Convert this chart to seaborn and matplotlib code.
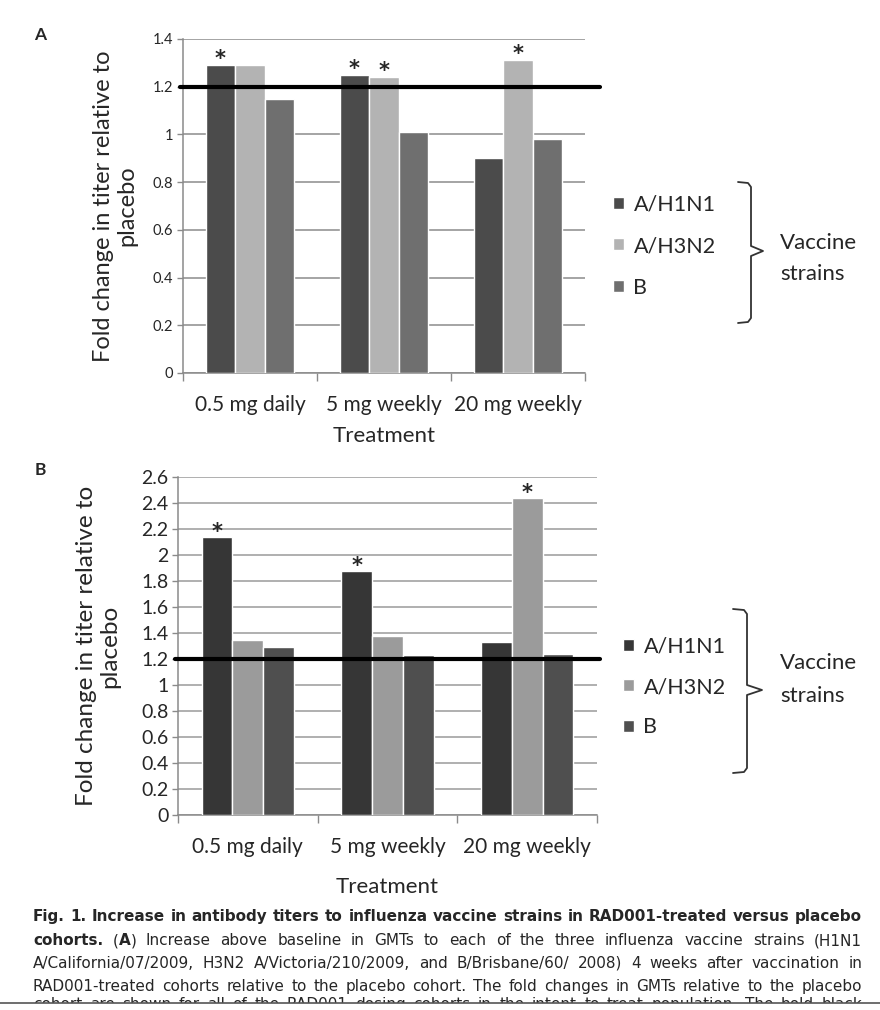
import numpy as np
import pandas as pd
import matplotlib
matplotlib.use("Agg")
import matplotlib.pyplot as plt
import seaborn as sns
from matplotlib.lines import Line2D
from matplotlib.patches import Rectangle

# ---------------- data ----------------
treatments = ["0.5 mg daily", "5 mg weekly", "20 mg weekly"]
strains = ["A/H1N1", "A/H3N2", "B"]

a_h1n1 = [1.29, 1.25, 0.90]
a_h3n2 = [1.29, 1.24, 1.31]
a_b = [1.15, 1.01, 0.98]

b_h1n1 = [2.14, 1.88, 1.33]
b_h3n2 = [1.35, 1.38, 2.44]
b_b = [1.29, 1.23, 1.24]

a_yticks = [0, 0.2, 0.4, 0.6, 0.8, 1.0, 1.2, 1.4]
b_yticks = [0, 0.2, 0.4, 0.6, 0.8, 1.0, 1.2, 1.4, 1.6, 1.8, 2.0, 2.2, 2.4, 2.6]

# significance stars: (treatment index, strain index)
a_stars = [(0, 0), (1, 0), (1, 1), (2, 1)]
b_stars = [(0, 0), (1, 0), (2, 1)]

threshold = 1.2

caption_lines = [
    [[("Fig.", "bold")], [("1.", "bold")], [("Increase", "bold")], [("in", "bold")], [("antibody", "bold")],
     [("titers", "bold")], [("to", "bold")], [("influenza", "bold")], [("vaccine", "bold")], [("strains", "bold")],
     [("in", "bold")], [("RAD001-treated", "bold")], [("versus", "bold")], [("placebo", "bold")]],
    [[("cohorts.", "bold")], [("(", "normal"), ("A", "bold"), (")", "normal")]] +
    [[(w, "normal")] for w in "Increase above baseline in GMTs to each of the three influenza vaccine strains (H1N1".split()],
    [[(w, "normal")] for w in "A/California/07/2009, H3N2 A/Victoria/210/2009, and B/Brisbane/60/ 2008) 4 weeks after vaccination in".split()],
    [[(w, "normal")] for w in "RAD001-treated cohorts relative to the placebo cohort. The fold changes in GMTs relative to the placebo".split()],
    [[(w, "normal")] for w in "cohort are shown for all of the RAD001 dosing cohorts in the intent to treat population. The bold black".split()],
]

# ---------------- styling ----------------
W, H = 880, 1010
sns.set_theme(style="white")
plt.rcParams["font.family"] = ["Lato", "DejaVu Sans"]
NARROW = ["Liberation Sans Narrow", "Lato", "DejaVu Sans"]
CAPTION_FONT = ["DejaVu Sans"]

fig = plt.figure(figsize=(W / 100, H / 100), dpi=100)
fig.patch.set_facecolor("white")


def fx(px):
    return px / W


def fy(py):
    return 1 - py / H


def panel(rect, series, colors, yticks, stars, tick_size, ylab_x, ylab_size,
          tick_pad, xlab_pad, line_span, star_off, grid_color, legend_pos, legend_spacing):
    ax = fig.add_axes(rect)
    df = pd.DataFrame({
        "Treatment": treatments * len(strains),
        "fold": [v for s in series for v in s],
        "strain": np.repeat(strains, len(treatments)),
    })
    sns.barplot(data=df, x="Treatment", y="fold", hue="strain", order=treatments,
                hue_order=strains, palette=colors, width=0.66, gap=0, saturation=1,
                errorbar=None, ax=ax, zorder=3)
    ax.set_xlim(-0.5, len(treatments) - 0.5)
    ax.set_ylim(0, yticks[-1])
    ax.set_yticks(yticks)
    ax.set_yticklabels([f"{v:g}" for v in yticks], fontsize=tick_size, family=NARROW)
    ax.yaxis.grid(True, color=grid_color, lw=1.1)
    ax.xaxis.grid(False)
    ax.set_axisbelow(True)
    for side in ("top", "right"):
        ax.spines[side].set_visible(False)
    for side in ("left", "bottom"):
        ax.spines[side].set_color("#8a8a8a")
        ax.spines[side].set_linewidth(1.1)
    ax.tick_params(axis="y", length=4, width=1, color="#8a8a8a", pad=3, left=True)
    ax.set_xticks(np.arange(-0.5, len(treatments), 1.0), minor=True)
    ax.tick_params(axis="x", which="major", length=0, pad=tick_pad, labelsize=15)
    ax.tick_params(axis="x", which="minor", length=6, width=1, color="#8a8a8a",
                   direction="out", bottom=True)
    ax.set_xlabel("Treatment", fontsize=16, labelpad=xlab_pad)
    ax.set_ylabel("Fold change in titer relative to\nplacebo", fontsize=ylab_size,
                  linespacing=1.12)
    ax.yaxis.set_label_coords(ylab_x, 0.5)
    ax.yaxis.label.set_verticalalignment("center")
    ax.axhline(threshold, xmin=line_span[0], xmax=line_span[1], color="black", lw=3,
               clip_on=False, zorder=6)
    for ti, si in stars:
        bar = ax.containers[si][ti]
        ax.annotate("*", (bar.get_x() + bar.get_width() / 2, bar.get_height()),
                    xytext=(0, star_off), textcoords="offset points", ha="center",
                    va="baseline", fontsize=15, fontweight="bold", family="DejaVu Sans")
    handles, labels = ax.get_legend_handles_labels()
    ax.legend(handles, labels, loc="center left", bbox_to_anchor=legend_pos,
              bbox_transform=fig.transFigure, frameon=False, fontsize=15.5,
              handlelength=0.5, handleheight=0.5, handletextpad=0.45,
              labelspacing=legend_spacing, borderpad=0, borderaxespad=0)
    return ax


# Panel A
axA = panel([fx(183), fy(373), fx(585) - fx(183), fy(39) - fy(373)],
            [a_h1n1, a_h3n2, a_b], ["#4b4b4b", "#b3b3b3", "#6f6f6f"], a_yticks, a_stars,
            tick_size=10.5, ylab_x=(115 - 183) / 402, ylab_size=17,
            tick_pad=16, xlab_pad=8, line_span=(-0.008, 1.037), star_off=0,
            grid_color="#8c8c8c", legend_pos=(fx(613), fy(246)), legend_spacing=1.0)

# Panel B
axB = panel([fx(178), fy(815), fx(597) - fx(178), fy(477) - fy(815)],
            [b_h1n1, b_h3n2, b_b], ["#363636", "#9b9b9b", "#4f4f4f"], b_yticks, b_stars,
            tick_size=14, ylab_x=(98 - 178) / 419, ylab_size=17.5,
            tick_pad=16, xlab_pad=14, line_span=(-0.008, 1.007), star_off=-1,
            grid_color="#9a9a9a", legend_pos=(fx(623), fy(687)), legend_spacing=0.95)

# panel letters
fig.text(fx(40), fy(35), "A", fontsize=12.5, fontweight="bold", ha="center", va="center")
fig.text(fx(40), fy(470), "B", fontsize=12.5, fontweight="bold", ha="center", va="center")


# curly brackets + "Vaccine strains"
def bracket(x_left, x_v, x_tip, y_top, y_mid, y_bot):
    xs = [x_left, x_v - 3, x_v, x_v, x_tip, x_v, x_v, x_v - 3, x_left]
    ys = [y_top, y_top + 1, y_top + 5, y_mid - 5, y_mid, y_mid + 5, y_bot - 5, y_bot - 1, y_bot]
    fig.add_artist(Line2D([fx(x) for x in xs], [fy(y) for y in ys], color="#333333", lw=1.3,
                          transform=fig.transFigure))


bracket(738, 751, 763, 182, 251, 323)
bracket(733, 747, 762, 609, 690, 773)
for ytop, ybot in ((243, 274), (663, 696)):
    fig.text(fx(780), fy(ytop), "Vaccine", fontsize=16, ha="left", va="center")
    fig.text(fx(780), fy(ybot), "strains", fontsize=16, ha="left", va="center")

# ---------------- caption (justified) ----------------
renderer = fig.canvas.get_renderer()
cap_baseline = [921, 945, 968, 991, 1009]
X0, X1 = 33, 862
for words, ypx in zip(caption_lines, cap_baseline):
    size = 11.0
    while True:
        objs, widths = [], []
        for word in words:
            segs, total = [], 0
            for s, wt in word:
                t = fig.text(0, 0, s, fontsize=size, fontweight=wt, family=CAPTION_FONT,
                             ha="left", va="baseline")
                w = t.get_window_extent(renderer).width
                segs.append((t, w))
                total += w
            objs.append(segs)
            widths.append(total)
        gap = (X1 - X0 - sum(widths)) / (len(words) - 1)
        if gap >= 3.5 or size < 8:
            break
        for segs in objs:
            for t, _ in segs:
                t.remove()
        size -= 0.2
    x = X0
    for segs, w in zip(objs, widths):
        xx = x
        for t, sw in segs:
            t.set_position((fx(xx), fy(ypx)))
            xx += sw
        x += w + gap

# cut-off at the bottom of the page
fig.add_artist(Rectangle((0, 0), 1, fy(1003), transform=fig.transFigure, facecolor="white",
                         edgecolor="none", zorder=10))
fig.add_artist(Line2D([0, fx(880)], [fy(1003), fy(1003)], color="#555555", lw=1.2,
                      transform=fig.transFigure, zorder=11))

fig.savefig("out.png", dpi=100)
